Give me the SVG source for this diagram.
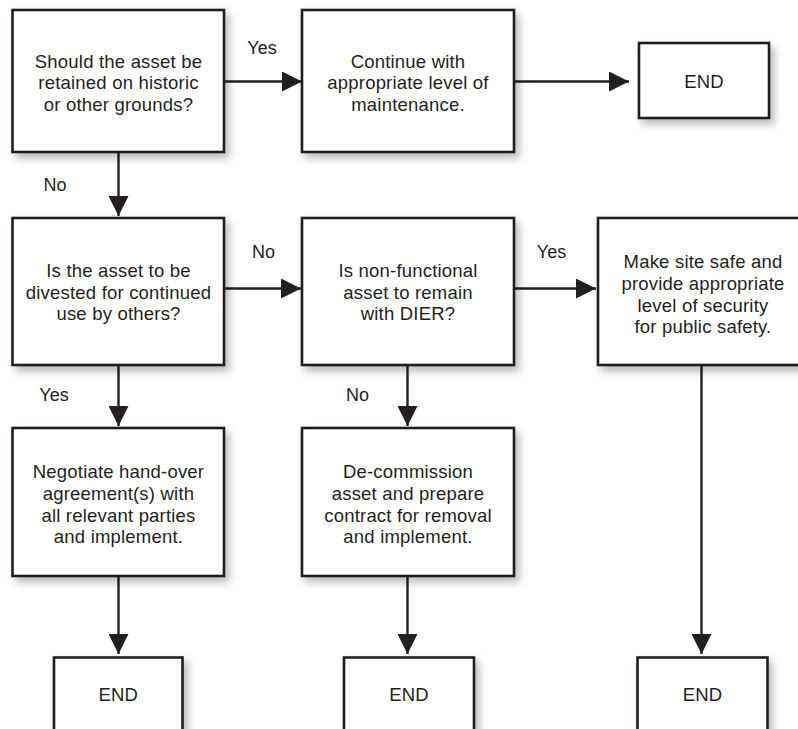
<svg xmlns="http://www.w3.org/2000/svg" width="798" height="729" viewBox="0 0 798 729">
  <defs>
    <filter id="shadow" x="-10%" y="-10%" width="130%" height="130%">
      <feDropShadow dx="4" dy="5" stdDeviation="4" flood-color="#000" flood-opacity="0.28"/>
    </filter>
    <marker id="arrow" markerUnits="userSpaceOnUse" markerWidth="20" markerHeight="20" refX="20" refY="10" orient="auto">
      <path d="M0,0 L20,10 L0,20 Z" fill="#231f20"/>
    </marker>
  </defs>
  <style>
    .box { fill: #ffffff; stroke: #231f20; stroke-width: 2.6; filter: url(#shadow); }
    .t { font-family: "Liberation Sans", Arial, Helvetica, sans-serif; font-size: 18.5px; letter-spacing: 0.2px; fill: #231f20; text-anchor: middle; }
    .lbl { font-family: "Liberation Sans", Arial, Helvetica, sans-serif; font-size: 18px; fill: #231f20; text-anchor: middle; }
    .conn { stroke: #231f20; stroke-width: 2.4; fill: none; marker-end: url(#arrow); }
  </style>
  <rect width="798" height="729" fill="#ffffff"/>

  <g id="connectors">
    <line class="conn" x1="224" y1="81.5" x2="302" y2="81.5"/>
    <line class="conn" x1="514" y1="81.5" x2="629" y2="81.5"/>
    <line class="conn" x1="118.5" y1="152" x2="118.5" y2="216"/>
    <line class="conn" x1="224" y1="288.5" x2="301" y2="288.5"/>
    <line class="conn" x1="514" y1="288.5" x2="596" y2="288.5"/>
    <line class="conn" x1="118.5" y1="365" x2="118.5" y2="426"/>
    <line class="conn" x1="407.5" y1="365" x2="407.5" y2="426"/>
    <line class="conn" x1="701.5" y1="365" x2="701.5" y2="654"/>
    <line class="conn" x1="118.5" y1="576" x2="118.5" y2="654"/>
    <line class="conn" x1="407.5" y1="576" x2="407.5" y2="654"/>
    <text class="lbl" x="262" y="54">Yes</text>
    <text class="lbl" x="55" y="190.5">No</text>
    <text class="lbl" x="263.5" y="258">No</text>
    <text class="lbl" x="551.5" y="258">Yes</text>
    <text class="lbl" x="54" y="400.5">Yes</text>
    <text class="lbl" x="357.5" y="400.5">No</text>
  </g>

  <g id="q-retain">
    <rect class="box" x="12.5" y="10" width="211.5" height="142"/>
    <text class="t" x="118.5" y="67.7">Should the asset be</text>
    <text class="t" x="118.5" y="89.2">retained on historic</text>
    <text class="t" x="118.5" y="110.7">or other grounds?</text>
  </g>

  <g id="continue">
    <rect class="box" x="302" y="10" width="212" height="142"/>
    <text class="t" x="408" y="67.7">Continue with</text>
    <text class="t" x="408" y="89.2">appropriate level of</text>
    <text class="t" x="408" y="110.7">maintenance.</text>
  </g>

  <g id="end-top">
    <rect class="box" x="639" y="43" width="130" height="75"/>
    <text class="t" x="704" y="87.5">END</text>
  </g>

  <g id="q-divest">
    <rect class="box" x="12.5" y="218" width="211.5" height="147"/>
    <text class="t" x="118.5" y="277.3">Is the asset to be</text>
    <text class="t" x="118.5" y="298.8">divested for continued</text>
    <text class="t" x="118.5" y="320.3">use by others?</text>
  </g>

  <g id="q-remain">
    <rect class="box" x="302" y="218" width="212" height="147"/>
    <text class="t" x="408" y="277.3">Is non-functional</text>
    <text class="t" x="408" y="298.8">asset to remain</text>
    <text class="t" x="408" y="320.3">with DIER?</text>
  </g>

  <g id="make-safe">
    <rect class="box" x="598" y="218" width="220" height="147"/>
    <text class="t" x="703" y="268.3">Make site safe and</text>
    <text class="t" x="703" y="290">provide appropriate</text>
    <text class="t" x="703" y="311.7">level of security</text>
    <text class="t" x="703" y="333.3">for public safety.</text>
  </g>

  <g id="negotiate">
    <rect class="box" x="12.5" y="428" width="211.5" height="148"/>
    <text class="t" x="118.5" y="478.3">Negotiate hand-over</text>
    <text class="t" x="118.5" y="500">agreement(s) with</text>
    <text class="t" x="118.5" y="521.7">all relevant parties</text>
    <text class="t" x="118.5" y="543.4">and implement.</text>
  </g>

  <g id="decommission">
    <rect class="box" x="302" y="428" width="212" height="148"/>
    <text class="t" x="408" y="478.3">De-commission</text>
    <text class="t" x="408" y="500">asset and prepare</text>
    <text class="t" x="408" y="521.7">contract for removal</text>
    <text class="t" x="408" y="543.4">and implement.</text>
  </g>

  <g id="end-left">
    <rect class="box" x="54" y="657.5" width="128.5" height="100"/>
    <text class="t" x="118.3" y="700.7">END</text>
  </g>

  <g id="end-mid">
    <rect class="box" x="344" y="657.5" width="130" height="100"/>
    <text class="t" x="409" y="700.7">END</text>
  </g>

  <g id="end-right">
    <rect class="box" x="637.5" y="657.5" width="130" height="100"/>
    <text class="t" x="702.5" y="700.7">END</text>
  </g>
</svg>
